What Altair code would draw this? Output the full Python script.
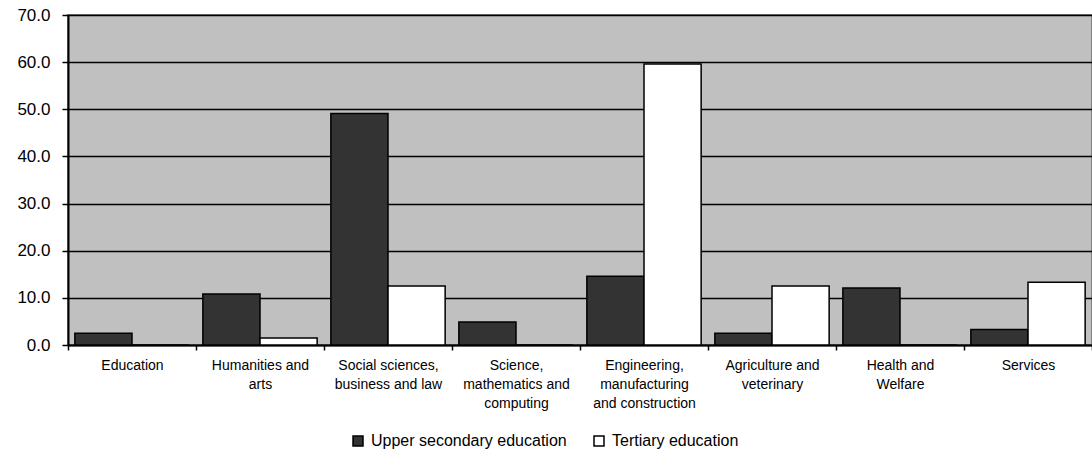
import altair as alt
import pandas as pd

# Fields of study; "|" marks where each axis label wraps
categories = [
    "Education",
    "Humanities and|arts",
    "Social sciences,|business and law",
    "Science,|mathematics and|computing",
    "Engineering,|manufacturing|and construction",
    "Agriculture and|veterinary",
    "Health and|Welfare",
    "Services",
]
series = ["Upper secondary education", "Tertiary education"]
upper_secondary = [2.5, 10.8, 49.1, 4.9, 14.6, 2.5, 12.1, 3.3]
tertiary = [0.0, 1.5, 12.5, 0.0, 59.6, 12.5, 0.0, 13.3]
y_ticks = [0, 10, 20, 30, 40, 50, 60, 70]

rows = []
for cat, u, t in zip(categories, upper_secondary, tertiary):
    rows.append({"field": cat, "level": series[0], "value": u})
    rows.append({"field": cat, "level": series[1], "value": t})
df = pd.DataFrame(rows)

font = "Liberation Sans"

chart = (
    alt.Chart(df)
    .mark_bar(stroke="black", strokeWidth=1.5)
    .encode(
        x=alt.X(
            "field:N",
            sort=categories,
            title=None,
            scale=alt.Scale(paddingInner=0, paddingOuter=0),
            axis=alt.Axis(
                labelAngle=0,
                labelExpr="split(datum.label, '|')",
                labelFont=font,
                labelFontSize=14,
                labelColor="black",
                labelLineHeight=19,
                labelPadding=8,
                labelBaseline="top",
                tickBand="extent",
                tickSize=5,
                tickColor="black",
                tickWidth=1.5,
                domainColor="black",
                domainWidth=2,
                grid=False,
            ),
        ),
        xOffset=alt.XOffset(
            "level:N",
            sort=series,
            scale=alt.Scale(paddingInner=0, paddingOuter=0.12),
        ),
        y=alt.Y(
            "value:Q",
            title=None,
            scale=alt.Scale(domain=[0, 70], nice=False),
            axis=alt.Axis(
                values=y_ticks,
                format=".1f",
                labelFont=font,
                labelFontSize=17,
                labelColor="black",
                labelPadding=12,
                tickSize=6,
                tickColor="black",
                tickWidth=1.5,
                domainColor="black",
                domainWidth=2,
                gridColor="black",
                gridWidth=1.5,
                gridOpacity=1,
            ),
        ),
        fill=alt.Fill(
            "level:N",
            sort=series,
            scale=alt.Scale(domain=series, range=["#333333", "#ffffff"]),
            legend=alt.Legend(
                title=None,
                orient="none",
                direction="horizontal",
                legendX=282,
                legendY=418,
                symbolType="square",
                symbolSize=100,
                symbolStrokeColor="black",
                symbolStrokeWidth=1.5,
                labelFont=font,
                labelFontSize=16,
                labelColor="black",
                labelLimit=0,
                labelOffset=5,
                columnPadding=24,
            ),
        ),
    )
    .properties(
        width=1024,
        height=330,
        autosize=alt.AutoSizeParams(type="none"),
        padding={"left": 68, "top": 15, "right": 0, "bottom": 125},
        background="white",
    )
    .configure_view(fill="#C0C0C0", stroke="#808080", strokeWidth=2)
)

chart.save("out.html", embed_options={"renderer": "svg", "actions": False})
